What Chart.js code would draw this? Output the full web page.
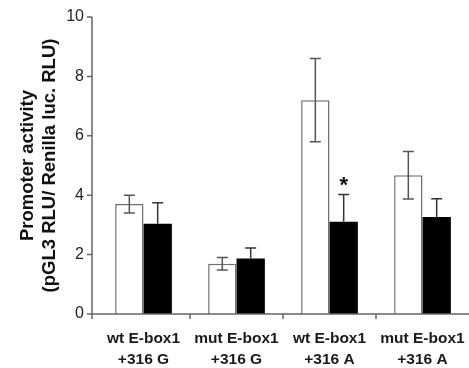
<!DOCTYPE html>
<html>
<head>
<meta charset="utf-8">
<script src="https://cdn.jsdelivr.net/npm/chart.js@4/dist/chart.umd.min.js"></script>
<style>
  html, body { margin: 0; padding: 0; background: #fff; }
  #wrap { width: 469px; height: 368px; position: relative; }
</style>
</head>
<body>
<div id="wrap"><canvas id="c" width="469" height="368"></canvas></div>
<script>
const categories = [
  ['wt E-box1', '+316 G'],
  ['mut E-box1', '+316 G'],
  ['wt E-box1', '+316 A'],
  ['mut E-box1', '+316 A']
];
const whiteValues = [3.7, 1.69, 7.2, 4.67];
const whiteErrors = [0.3, 0.21, 1.4, 0.8];
const blackValues = [3.04, 1.87, 3.11, 3.27];
const blackErrors = [0.71, 0.35, 0.91, 0.61];
const blackMarks = ['', '', '*', ''];
const yTicks = [0, 2, 4, 6, 8, 10];
const yTitle = ['Promoter activity', '(pGL3 RLU/ Renilla luc. RLU)'];

const FONT = "'Liberation Sans', Arial, Helvetica, sans-serif";
const AXIS_COLOR = '#666';

const errorBarPlugin = {
  id: 'errorBars',
  afterDatasetsDraw(chart) {
    const ctx = chart.ctx;
    const y = chart.scales.y;
    chart.data.datasets.forEach((ds, di) => {
      const meta = chart.getDatasetMeta(di);
      meta.data.forEach((bar, i) => {
        const v = ds.data[i], e = ds.errors[i];
        const yTop = y.getPixelForValue(v + e);
        const yBot = ds.upperOnly ? y.getPixelForValue(v) : y.getPixelForValue(v - e);
        ctx.save();
        ctx.strokeStyle = ds.errorColor;
        ctx.lineWidth = 1.5;
        ctx.beginPath();
        ctx.moveTo(bar.x, yTop); ctx.lineTo(bar.x, yBot);
        ctx.moveTo(bar.x - 5.5, yTop); ctx.lineTo(bar.x + 5.5, yTop);
        if (!ds.upperOnly) {
          ctx.moveTo(bar.x - 5.5, yBot); ctx.lineTo(bar.x + 5.5, yBot);
        }
        ctx.stroke();
        if (ds.marks && ds.marks[i]) {
          ctx.fillStyle = '#111';
          ctx.font = 'bold 22px ' + FONT;
          ctx.textAlign = 'center';
          ctx.textBaseline = 'middle';
          ctx.fillText(ds.marks[i], bar.x, yTop - 9);
        }
        ctx.restore();
      });
    });
  }
};

const axesPlugin = {
  id: 'axesLines',
  afterDraw(chart) {
    const ctx = chart.ctx;
    const {left, right} = chart.chartArea;
    const y = chart.scales.y, x = chart.scales.x;
    const ax = left - 5;
    const y0 = y.getPixelForValue(0);
    ctx.save();
    ctx.strokeStyle = AXIS_COLOR;
    ctx.lineWidth = 1.5;
    ctx.beginPath();
    ctx.moveTo(ax, y.getPixelForValue(yTicks[yTicks.length - 1]));
    ctx.lineTo(ax, y0 + 5);
    yTicks.forEach(t => {
      const py = y.getPixelForValue(t);
      ctx.moveTo(ax - 5, py); ctx.lineTo(ax, py);
    });
    ctx.moveTo(ax, y0); ctx.lineTo(right, y0);
    for (let i = 1; i < categories.length; i++) {
      const px = (x.getPixelForValue(i - 1) + x.getPixelForValue(i)) / 2;
      ctx.moveTo(px, y0); ctx.lineTo(px, y0 + 5);
    }
    ctx.stroke();
    ctx.restore();
  }
};

new Chart(document.getElementById('c'), {
  type: 'bar',
  data: {
    labels: categories,
    datasets: [
      {
        data: whiteValues,
        errors: whiteErrors,
        errorColor: '#555',
        backgroundColor: '#ffffff',
        borderColor: '#707070',
        borderWidth: 1.5,
        borderSkipped: 'bottom',
        categoryPercentage: 0.61,
        barPercentage: 1.0
      },
      {
        data: blackValues,
        errors: blackErrors,
        errorColor: '#333',
        upperOnly: true,
        marks: blackMarks,
        backgroundColor: '#000000',
        borderWidth: 0,
        categoryPercentage: 0.61,
        barPercentage: 1.0
      }
    ]
  },
  options: {
    responsive: false,
    animation: false,
    devicePixelRatio: 1,
    layout: { padding: { top: 17, right: 0, left: 0, bottom: 0 } },
    plugins: { legend: { display: false }, tooltip: { enabled: false } },
    scales: {
      x: {
        grid: { display: false, drawTicks: false },
        border: { display: false },
        ticks: {
          color: '#1a1a1a',
          font: { family: FONT, size: 15.5, weight: 'bold', lineHeight: 1.3 },
          padding: 15,
          maxRotation: 0,
          autoSkip: false
        },
        afterFit(scale) {
          scale.height = 54;
          scale.paddingLeft = 0; scale.paddingRight = 0;
          scale.paddingTop = 0; scale.paddingBottom = 0;
        }
      },
      y: {
        min: 0,
        max: 10,
        grid: { display: false, drawTicks: false },
        border: { display: false },
        ticks: {
          stepSize: 2,
          color: '#222',
          padding: 13,
          font: { family: FONT, size: 16 }
        },
        title: {
          display: true,
          text: yTitle,
          color: '#111',
          font: { family: FONT, size: 18.5, weight: 'bold', lineHeight: 1.2 },
          padding: { top: 17, bottom: 0 }
        },
        afterFit(scale) {
          scale.width = 97;
          scale.paddingTop = 0; scale.paddingBottom = 0;
          scale.paddingLeft = 0; scale.paddingRight = 0;
        }
      }
    }
  },
  plugins: [errorBarPlugin, axesPlugin]
});
</script>
</body>
</html>
